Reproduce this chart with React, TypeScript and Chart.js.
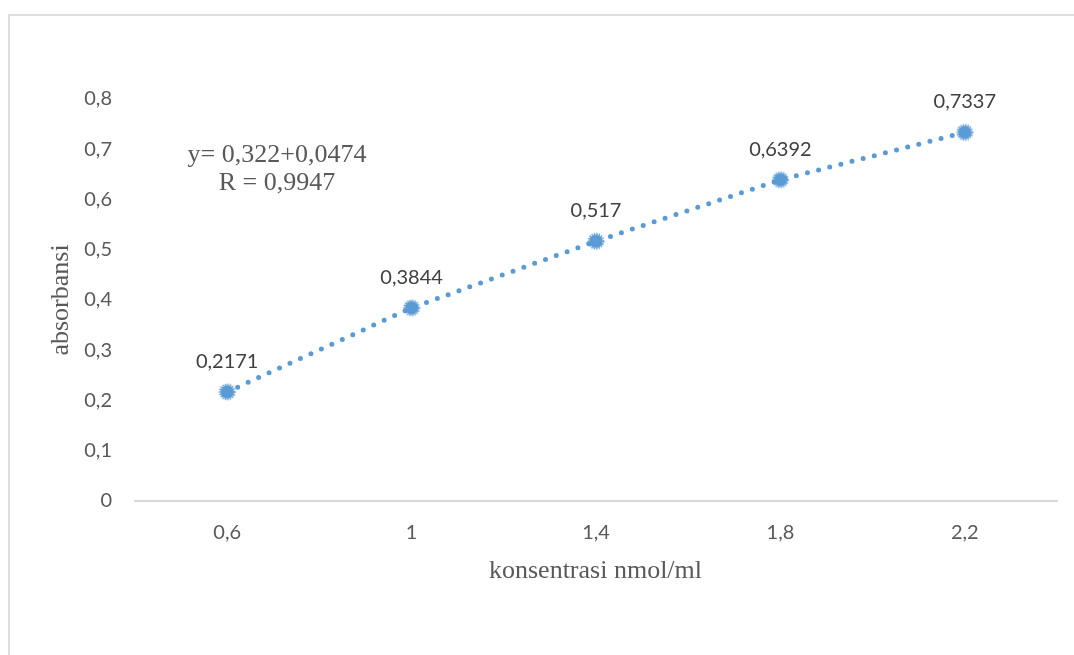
import React, { useEffect, useRef } from "react";
import { Chart, registerables } from "chart.js";

Chart.register(...registerables);

const categories = ["0,6", "1", "1,4", "1,8", "2,2"];
const absorbance = [0.2171, 0.3844, 0.517, 0.6392, 0.7337];
const pointLabels = ["0,2171", "0,3844", "0,517", "0,6392", "0,7337"];
const yTickLabels = ["0", "0,1", "0,2", "0,3", "0,4", "0,5", "0,6", "0,7", "0,8"];
const equationLines = ["y= 0,322+0,0474", "R = 0,9947"];
const xTitle = "konsentrasi nmol/ml";
const yTitle = "absorbansi";

const BLUE = "#5B9BD5";
const TICK_COLOR = "#595959";
const LABEL_COLOR = "#404040";
const SANS = "Lato, 'Open Sans', sans-serif";
const SERIF = "'Liberation Serif', 'DejaVu Serif', serif";

function makeMarker(): HTMLCanvasElement {
  const c = document.createElement("canvas");
  c.width = 20;
  c.height = 20;
  const g = c.getContext("2d")!;
  g.fillStyle = BLUE;
  g.beginPath();
  g.arc(10, 10, 6.8, 0, Math.PI * 2);
  g.fill();
  g.strokeStyle = BLUE;
  g.lineWidth = 2;
  g.setLineDash([1.3, 1.2]);
  g.beginPath();
  g.arc(10, 10, 7.4, 0, Math.PI * 2);
  g.stroke();
  return c;
}

const decorPlugin = {
  id: "decor",
  beforeDraw(chart: any) {
    const ctx = chart.ctx;
    ctx.save();
    ctx.strokeStyle = "#dedede";
    ctx.lineWidth = 2;
    ctx.beginPath();
    ctx.moveTo(8, 15);
    ctx.lineTo(chart.width, 15);
    ctx.moveTo(9, 15);
    ctx.lineTo(9, chart.height);
    ctx.stroke();
    ctx.restore();
  },
  afterDatasetsDraw(chart: any) {
    const ctx = chart.ctx;
    const meta = chart.getDatasetMeta(0);
    ctx.save();
    ctx.font = `20px ${SANS}`;
    ctx.fillStyle = LABEL_COLOR;
    ctx.textAlign = "center";
    ctx.textBaseline = "alphabetic";
    meta.data.forEach((pt: any, i: number) => {
      ctx.fillText(pointLabels[i], pt.x, pt.y - 24);
    });

    const area = chart.chartArea;
    ctx.fillStyle = TICK_COLOR;
    ctx.font = `26px ${SERIF}`;
    // equation annotation
    ctx.fillText(equationLines[0], area.left + 142, area.top + 63);
    ctx.fillText(equationLines[1], area.left + 142, area.top + 91);
    // x title
    ctx.fillText(xTitle, (area.left + area.right) / 2 - 0.5, area.bottom + 77);
    // y title
    ctx.translate(68, (area.top + area.bottom) / 2);
    ctx.rotate(-Math.PI / 2);
    ctx.fillText(yTitle, 0, 0);
    ctx.restore();
  },
};

export default function App() {
  const ref = useRef<HTMLCanvasElement | null>(null);

  useEffect(() => {
    if (!ref.current) return;
    const marker = makeMarker();
    const chart = new Chart(ref.current, {
      type: "line",
      data: {
        labels: categories,
        datasets: [
          {
            data: absorbance,
            borderColor: BLUE,
            backgroundColor: BLUE,
            borderWidth: 5,
            borderDash: [0, 11.5],
            borderCapStyle: "round",
            pointStyle: marker as any,
            pointRadius: 7,
            tension: 0,
            fill: false,
          },
        ],
      },
      options: {
        animation: false,
        responsive: false,
        maintainAspectRatio: false,
        devicePixelRatio: 1,
        layout: { padding: { top: 99, right: 17, left: 0, bottom: 0 } },
        plugins: {
          legend: { display: false },
          tooltip: { enabled: false },
          title: { display: false },
        },
        scales: {
          x: {
            type: "category",
            offset: true,
            grid: { display: false, drawTicks: false },
            border: { display: true, color: "#d9d9d9", width: 2 },
            ticks: {
              color: TICK_COLOR,
              font: { family: SANS, size: 20 },
              padding: 20,
              maxRotation: 0,
            },
            afterFit(scale: any) {
              scale.height = 154;
            },
          },
          y: {
            min: 0,
            max: 0.8,
            grid: { display: false, drawTicks: false },
            border: { display: false },
            ticks: {
              stepSize: 0.1,
              color: TICK_COLOR,
              font: { family: SANS, size: 20 },
              padding: 23,
              callback: (_v: any, i: number) => yTickLabels[i],
            },
            afterFit(scale: any) {
              scale.width = 135;
            },
          },
        },
      },
      plugins: [decorPlugin],
    });
    return () => chart.destroy();
  }, []);

  return (
    <div style={{ position: "fixed", left: 0, top: 0, width: 1074, height: 655, background: "#fff" }}>
      <canvas ref={ref} width={1074} height={655} style={{ display: "block" }} />
    </div>
  );
}
